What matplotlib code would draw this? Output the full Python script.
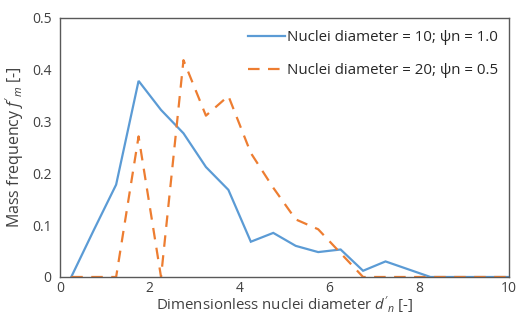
import matplotlib
matplotlib.use("Agg")
import matplotlib.pyplot as plt

x = [0.25, 0.75, 1.25, 1.75, 2.25, 2.75, 3.25, 3.75, 4.25, 4.75, 5.25, 5.75,
     6.25, 6.75, 7.25, 7.75, 8.25, 8.75, 9.25, 9.75, 10.25]
blue = [0.0, 0.09, 0.178, 0.378, 0.322, 0.277, 0.212, 0.168, 0.068, 0.085, 0.060, 0.048,
        0.053, 0.012, 0.030, 0.015, 0.0, 0.0, 0.0, 0.0, 0.0]
orange = [0.0, 0.0, 0.0, 0.271, 0.0, 0.418, 0.311, 0.349, 0.239, 0.172, 0.111, 0.092,
          0.046, 0.0, 0.0, 0.0, 0.0, 0.0, 0.0, 0.0, 0.0]
label_blue = "Nuclei diameter = 10; ψn = 1.0"
label_orange = "Nuclei diameter = 20; ψn = 0.5"
xticks = [0, 2, 4, 6, 8, 10]
yticks = [0, 0.1, 0.2, 0.3, 0.4, 0.5]
ytick_labels = ["0", "0.1", "0.2", "0.3", "0.4", "0.5"]

plt.rcParams['font.family'] = ['Open Sans', 'DejaVu Sans']
plt.rcParams['mathtext.fontset'] = 'custom'
plt.rcParams['mathtext.it'] = 'Open Sans:italic'
plt.rcParams['mathtext.rm'] = 'Open Sans'

fig = plt.figure(figsize=(5.16, 3.2), dpi=100)
ax = fig.add_axes([0.1163, 0.1344, 0.8701, 0.8106])

ax.plot(x, blue, color='#5B9BD5', lw=1.6, label=label_blue, solid_joinstyle='miter')
ax.plot(x, orange, color='#ED7D31', lw=1.6, dashes=(5.2, 3.8), label=label_orange)

ax.set_xlim(0, 10)
ax.set_ylim(0, 0.5)
ax.set_xticks(xticks)
ax.set_xticklabels([str(t) for t in xticks])
ax.set_yticks(yticks)
ax.set_yticklabels(ytick_labels)
ax.tick_params(length=0, labelsize=10, colors='#404040')
ax.tick_params(axis='x', pad=3)
ax.tick_params(axis='y', pad=6)
for s in ax.spines.values():
    s.set_color('#595959')
    s.set_linewidth(1.0)

ax.set_xlabel("Dimensionless nuclei diameter $d'_n$ [-]", fontsize=10.8, color='#404040', labelpad=-1)
ax.set_ylabel("Mass frequency $f'_m$ [-]", fontsize=11.5, color='#404040', labelpad=4)

leg = ax.legend(loc='upper right', frameon=False, fontsize=10.8, handlelength=2.5,
                labelspacing=1.2, handletextpad=0.15, borderaxespad=0.0,
                bbox_to_anchor=(0.99, 0.975))
for t in leg.get_texts():
    t.set_color('#262626')

fig.savefig("out.png", dpi=100)
